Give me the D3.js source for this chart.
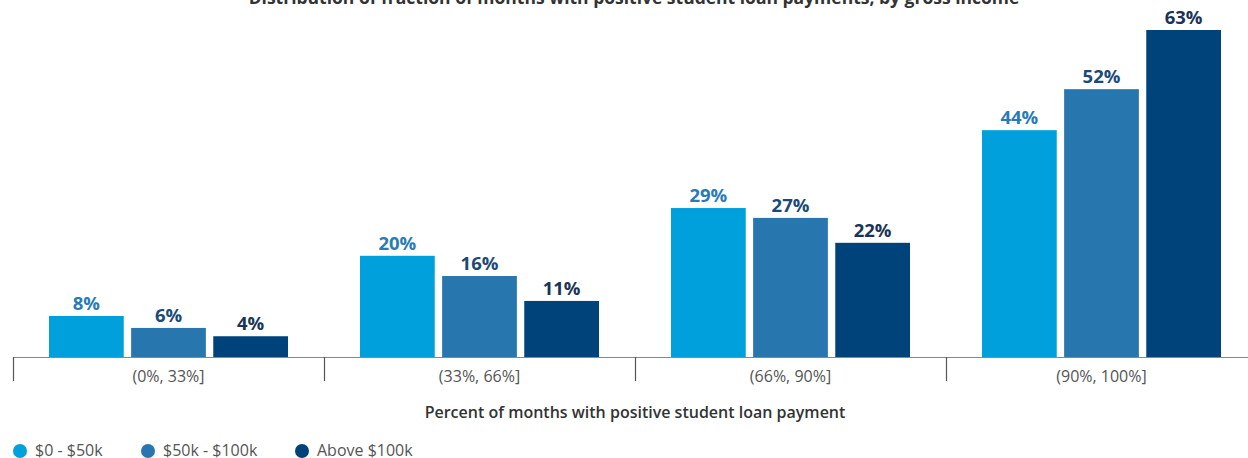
<!DOCTYPE html>
<html><head><meta charset="utf-8">
<script src="https://cdn.jsdelivr.net/npm/d3@7"></script>
<style>body{margin:0;background:#fff}svg{display:block}text{font-family:"Open Sans",sans-serif}</style>
</head><body>
<svg id="c" width="1248" height="458"></svg>
<script>
const categories = ["(0%, 33%]", "(33%, 66%]", "(66%, 90%]", "(90%, 100%]"];
const seriesNames = ["$0 - $50k", "$50k - $100k", "Above $100k"];
const low = [7.9, 19.5, 28.7, 43.7];
const mid = [5.6, 15.6, 26.8, 51.6];
const high = [4.0, 10.8, 22.0, 63.0];
const barColors = ["#00a0dc", "#2776ae", "#00437a"];
const labelColors = ["#2a7ab4", "#1b4a78", "#1b3456"];
const title = "Distribution of fraction of months with positive student loan payments, by gross income";
const xTitle = "Percent of months with positive student loan payment";

const series = [low, mid, high];
const svg = d3.select("#c");
const x = d3.scaleBand().domain(categories).range([13, 1257]).paddingInner(0).paddingOuter(0);
const xs = d3.scaleBand().domain(seriesNames).range([36, 275]).paddingInner(0.09).paddingOuter(0);
const y = d3.scaleLinear().domain([0, 63]).range([357, 30]);

svg.append("text").attr("x", 634).attr("y", 4).attr("text-anchor", "middle")
  .attr("font-size", 17.5).attr("font-weight", 700).attr("fill", "#333").text(title);

categories.forEach((c, i) => {
  const g = svg.append("g").attr("transform", `translate(${x(c)},0)`);
  series.forEach((s, j) => {
    const xv = xs(seriesNames[j]);
    g.append("rect").attr("x", xv).attr("y", y(s[i])).attr("width", xs.bandwidth())
      .attr("height", y(0) - y(s[i])).attr("fill", barColors[j]);
    g.append("text").attr("x", xv + xs.bandwidth() / 2).attr("y", y(s[i]) - 6)
      .attr("text-anchor", "middle").attr("font-size", 18.5).attr("font-weight", 700)
      .attr("fill", labelColors[j]).text(d3.format(".0f")(s[i]) + "%");
  });
});

const axis = d3.axisBottom(x).tickSize(0).tickPadding(0);
const ax = svg.append("g").attr("transform", `translate(0,${y(0)})`).call(axis);
ax.select(".domain").attr("stroke", "#888").attr("stroke-width", 1.2);
ax.selectAll(".tick text").attr("font-size", 16).attr("fill", "#555").attr("dy", 0).attr("y", 25)
  .attr("font-family", "'Open Sans', sans-serif");
const edges = categories.map(c => x(c)).concat([x(categories[categories.length - 1]) + x.bandwidth()]);
svg.selectAll("line.sep").data(edges).join("line").attr("class", "sep")
  .attr("x1", d => d + 0.5).attr("x2", d => d + 0.5).attr("y1", y(0)).attr("y2", 381)
  .attr("stroke", "#555").attr("stroke-width", 1.2);

svg.append("text").attr("x", 635).attr("y", 418).attr("text-anchor", "middle")
  .attr("font-size", 16).attr("font-weight", 600).attr("fill", "#333").text(xTitle);

const legendX = [20, 148, 302];
seriesNames.forEach((n, j) => {
  svg.append("circle").attr("cx", legendX[j]).attr("cy", 451).attr("r", 7).attr("fill", barColors[j]);
  svg.append("text").attr("x", legendX[j] + 15).attr("y", 456).attr("font-size", 16)
    .attr("fill", "#555").text(n);
});
</script>
</body></html>
